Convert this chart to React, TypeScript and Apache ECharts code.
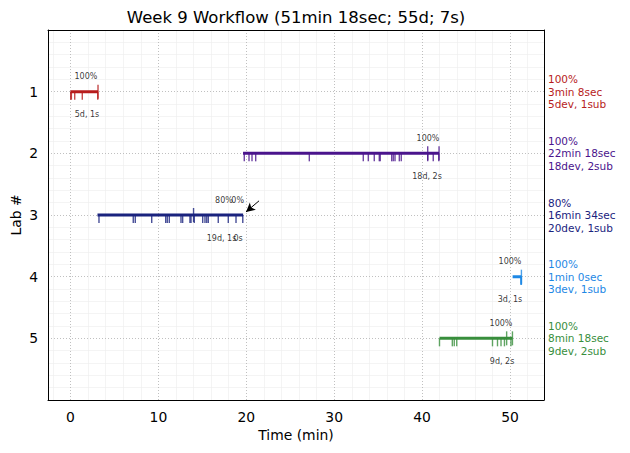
import React, { useEffect, useRef } from 'react';
import * as echarts from 'echarts';

const titleText = 'Week 9 Workflow (51min 18sec; 55d; 7s)';
const labs = [1, 2, 3, 4, 5];
const labColors = ['#b71c1c', '#4a148c', '#1a237e', '#1e88e5', '#388e3c'];
const labStart = [0, 19.63, 3.07, 50.3, 41.98];
const labEnd = [3.13, 41.93, 19.64, 51.3, 50.28];

const devTimes = [
  [0.02, 0.1, 0.48, 1.34, 3.1],
  [19.77, 20.31, 20.65, 21.07, 27.17, 33.31, 33.88, 34.56, 35.13, 35.24, 36.54, 36.72, 36.92, 37.41, 37.63, 40.64, 41.27, 41.9],
  [3.24, 7.14, 7.37, 9.24, 10.83, 11.01, 11.24, 12.57, 12.76, 13.59, 13.71, 14.08, 15.04, 15.3, 15.5, 15.68, 16.81, 17.95, 18.83, 19.6],
  [51.25, 51.28, 51.3],
  [41.98, 43.44, 43.66, 43.94, 48.01, 48.58, 48.98, 49.37, 50.11],
];
const subTimes = [[3.13], [40.64, 41.93], [14.0], [51.3], [49.62, 50.28]];

const pctText = [['100%'], ['100%'], ['80%', '0%'], ['100%'], ['100%']];
const pctX = [[1.76], [40.67], [17.46, 19.02], [50.0], [48.98]];
const cntText = [['5d, 1s'], ['18d, 2s'], ['19d, 1s', '0s'], ['3d, 1s'], ['9d, 2s']];
const cntX = [[1.88], [40.56], [17.18, 19.06], [50.0], [49.1]];

const rightPct = ['100%', '100%', '80%', '100%', '100%'];
const rightDur = ['3min 8sec', '22min 18sec', '16min 34sec', '1min 0sec', '8min 18sec'];
const rightCnt = ['5dev, 1sub', '18dev, 2sub', '20dev, 1sub', '3dev, 1sub', '9dev, 2sub'];

const xMin = -2.56;
const xMax = 53.87;
const yMin = 0;
const yMax = 6;
const xMajorTicks = [0, 10, 20, 30, 40, 50];
const xMinorTicks = [-2, 2, 4, 6, 8, 12, 14, 16, 18, 22, 24, 26, 28, 32, 34, 36, 38, 42, 44, 46, 48, 52];
const yMajorTicks = [1, 2, 3, 4, 5];

const arrowFrom = [21.45, 2.77];
const arrowTo = [19.97, 2.95];

const FONT = 'DejaVu Sans';

export default function App() {
  const ref = useRef<HTMLDivElement>(null);
  useEffect(() => {
    if (!ref.current) return;
    const chart = echarts.init(ref.current, undefined, { renderer: 'svg' });
    const series: any[] = [];

    series.push({
      type: 'line',
      data: [],
      z: 0,
      silent: true,
      markLine: {
        z: 0,
        silent: true,
        symbol: ['none', 'none'],
        label: { show: false },
        animation: false,
        data: [
          ...xMinorTicks.map((v) => ({ xAxis: v, lineStyle: { color: '#ececec', width: 0.6, type: 'solid' } })),
          ...xMajorTicks.map((v) => ({ xAxis: v, lineStyle: { color: '#b0b0b0', width: 0.8, type: [1, 2] } })),
          ...yMajorTicks.map((v) => ({ yAxis: v, lineStyle: { color: '#b0b0b0', width: 0.8, type: [1, 2] } })),
        ],
      },
    });

    labs.forEach((lab, i) => {
      const color = labColors[i];
      series.push({
        type: 'line',
        data: [[labStart[i], lab], [labEnd[i], lab]],
        symbol: 'none',
        lineStyle: { color, width: 3 },
        z: 3,
      });
      series.push({
        type: 'scatter',
        data: devTimes[i].map((t) => [t, lab]),
        symbol: 'rect',
        symbolSize: [1.4, 8],
        symbolOffset: [0, 4],
        itemStyle: { color },
        z: 4,
      });
      series.push({
        type: 'scatter',
        data: subTimes[i].map((t) => [t, lab]),
        symbol: 'rect',
        symbolSize: [1.4, 14],
        itemStyle: { color },
        z: 4,
      });
      series.push({
        type: 'scatter',
        data: pctX[i].map((x, k) => ({ value: [x, lab], name: pctText[i][k] })),
        symbolSize: 0,
        label: { show: true, formatter: '{b}', position: 'inside', offset: [0, -15], fontSize: 8, color: '#000', fontFamily: FONT },
        z: 5,
      });
      series.push({
        type: 'scatter',
        data: cntX[i].map((x, k) => ({ value: [x, lab], name: cntText[i][k] })),
        symbolSize: 0,
        label: { show: true, formatter: '{b}', position: 'inside', offset: [0, 23], fontSize: 8, color: '#000', fontFamily: FONT },
        z: 5,
      });
    });

    series.push({
      type: 'line',
      data: [],
      z: 6,
      markLine: {
        z: 6,
        silent: true,
        symbol: ['none', 'arrow'],
        symbolSize: [7, 9],
        label: { show: false },
        lineStyle: { color: '#000', width: 1, type: 'solid' },
        data: [[{ coord: arrowFrom }, { coord: arrowTo }]],
      },
    });

    chart.setOption({
      animation: false,
      textStyle: { fontFamily: FONT },
      grid: { left: 48, top: 30, width: 496, height: 370, containLabel: false, outerBoundsMode: 'none' },
      graphic: [
        {
          type: 'text',
          x: 296,
          y: 17,
          style: { text: titleText, fontSize: 16.5, fontFamily: FONT, fill: '#000', textAlign: 'center', textVerticalAlign: 'middle' },
        },
      ],
      xAxis: [
        {
          type: 'value',
          min: xMin,
          max: xMax,
          splitNumber: 5,
          position: 'bottom',
          name: 'Time (min)',
          nameLocation: 'middle',
          nameGap: 28,
          nameMoveOverlap: false,
          nameTextStyle: { fontSize: 13.9, color: '#000', fontFamily: FONT },
          axisLine: { show: true, onZero: false, lineStyle: { color: '#000', width: 1 } },
          axisTick: { show: false },
          splitLine: { show: false },
          axisLabel: {
            fontSize: 13.9,
            color: '#000',
            fontFamily: FONT,
            margin: 10,
            showMinLabel: false,
            showMaxLabel: false,
            formatter: (v: number) => (xMajorTicks.includes(Math.round(v * 1000) / 1000) ? String(v) : ''),
          },
        },
        {
          type: 'value',
          min: xMin,
          max: xMax,
          position: 'top',
          axisLine: { show: true, onZero: false, lineStyle: { color: '#000', width: 1 } },
          axisTick: { show: false },
          axisLabel: { show: false },
          splitLine: { show: false },
        },
      ],
      yAxis: [
        {
          type: 'value',
          min: yMin,
          max: yMax,
          interval: 1,
          inverse: true,
          position: 'left',
          name: 'Lab #',
          nameLocation: 'middle',
          nameGap: 25,
          nameMoveOverlap: false,
          nameRotate: 90,
          nameTextStyle: { fontSize: 13.9, color: '#000', fontFamily: FONT },
          axisLine: { show: true, onZero: false, lineStyle: { color: '#000', width: 1 } },
          axisTick: { show: false },
          splitLine: { show: false },
          minorTick: { show: false, splitNumber: 5 },
          minorSplitLine: { show: true, lineStyle: { color: '#ececec', width: 0.6 } },
          axisLabel: {
            fontSize: 13.9,
            color: '#000',
            fontFamily: FONT,
            margin: 10,
            formatter: (v: number) => (yMajorTicks.includes(v) ? String(v) : ''),
          },
        },
        {
          type: 'value',
          min: yMin,
          max: yMax,
          interval: 1,
          inverse: true,
          position: 'right',
          axisLine: { show: true, onZero: false, lineStyle: { color: '#000', width: 1 } },
          axisTick: { show: false },
          splitLine: { show: false },
          axisLabel: {
            fontSize: 10.5,
            lineHeight: 12.5,
            fontFamily: FONT,
            align: 'left',
            margin: 4,
            color: (v: any) => labColors[Number(v) - 1] || '#000',
            formatter: (v: number) =>
              v >= 1 && v <= 5 ? `${rightPct[v - 1]}\n${rightDur[v - 1]}\n${rightCnt[v - 1]}` : '',
          },
        },
      ],
      series,
    });
    return () => chart.dispose();
  }, []);
  return <div ref={ref} style={{ position: 'fixed', left: 0, top: 0, width: 630, height: 453, background: '#fff' }} />;
}
